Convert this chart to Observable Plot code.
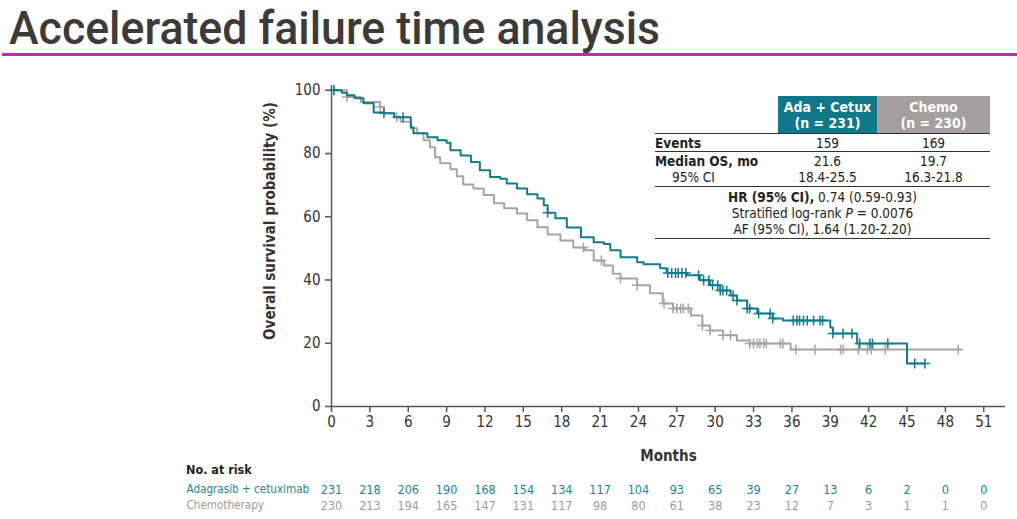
<!DOCTYPE html>
<html><head><meta charset="utf-8">
<script src="https://cdn.jsdelivr.net/npm/d3@7"></script>
<script src="https://cdn.jsdelivr.net/npm/@observablehq/plot@0.6"></script>
<style>
body{margin:0;background:#fff;width:1017px;height:519px;position:relative;overflow:hidden;font-family:"DejaVu Sans Condensed","DejaVu Sans",sans-serif;}
#title{position:absolute;left:9px;top:0px;font-family:Roboto,sans-serif;font-weight:500;font-size:47px;line-height:normal;color:#3d3a3a;transform-origin:left top;white-space:nowrap;}
#rule{position:absolute;left:2px;top:53px;width:1015px;height:3px;background:#b72eb4;}
#main{position:absolute;left:0;top:60px;}
#risk{position:absolute;left:0;top:478px;}
#norisk{position:absolute;left:186px;top:462px;font-weight:bold;font-size:12.5px;color:#222;}
#ylab{position:absolute;left:270px;top:221px;transform:translate(-50%,-50%) rotate(-90deg);white-space:nowrap;font-size:15px;font-weight:bold;color:#333;}
#tbl{position:absolute;left:655px;top:96px;border-collapse:collapse;font-size:13.5px;color:#222;line-height:16px;}
#tbl td{padding:0;text-align:center;}
#tbl td.c0{width:123px;text-align:left;}
#tbl td.c1{width:99px;}
#tbl td.c2{width:113px;}
#tbl tr.hd td.c1{background:#10788a;color:#fff;font-weight:bold;height:37px;font-size:14px;}
#tbl tr.hd td.c2{background:#a59f9f;color:#fff;font-weight:bold;height:37px;font-size:14px;}
#tbl tr.hd td{border-bottom:1.5px solid #333;}
#tbl tr.ev td{border-bottom:1.5px solid #333;height:17px;}
#tbl tr.md td{border-bottom:1.5px solid #333;height:34px;}
#tbl tr.hr td{border-bottom:1.5px solid #333;height:51px;}
</style></head>
<body>
<div id="title">Accelerated failure time analysis</div>
<div id="rule"></div>
<div id="main"></div>
<div id="ylab">Overall survival probability (%)</div>
<table id="tbl"></table>
<div id="norisk">No. at risk</div>
<div id="risk"></div>
<script>
// ---- data ----
const groups = ["Adagrasib + cetuximab", "Chemotherapy"];
const shortNames = ["Ada + Cetux", "Chemo"];
const nPatients = [231, 230];
const events = [159, 169];
const medianOS = ["21.6", "19.7"];
const medianCI = ["18.4-25.5", "16.3-21.8"];
const statLines = ["HR (95% CI),| 0.74 (0.59-0.93)", "Stratified log-rank |P| = 0.0076", "AF (95% CI), 1.64 (1.20-2.20)"];

const adaTime = [0,0.8,1.2,1.8,2.5,3.3,4.1,4.9,6.2,6.4,7.5,8.3,9.0,9.3,10.1,10.9,11.6,12.4,13.2,13.7,14.5,15.3,16.1,16.6,16.9,17.5,18.4,19.5,20.5,21.3,21.8,22.6,23.9,24.4,25.7,26.2,27.8,28.8,29.6,30.4,31.2,31.7,32.5,33.3,34.5,35.3,39.0,39.2,41.1,45.0,46.4];
const adaSurv = [100,99.2,98.4,97.5,95.9,93.0,92.7,91.5,88.3,86.4,85.1,84.2,83.4,81.0,79.4,77.3,74.7,72.6,72.0,70.5,68.9,67.1,65.8,63.6,61.3,59.5,56.6,53.5,51.9,51.4,49.4,47.2,45.6,45.0,43.7,42.2,41.5,39.9,38.3,36.7,35.1,33.5,31.0,29.4,27.8,27.2,25.0,23.1,19.9,13.6,13.6];
const chemoTime = [0,1.2,2.3,3.8,4.1,4.9,5.4,6.2,6.7,7.2,7.7,8.1,8.5,9.3,9.8,10.3,11.1,11.9,12.7,13.5,14.5,15.3,16.1,16.9,17.9,18.9,19.8,20.5,21.3,22.0,22.6,23.9,24.9,25.9,26.7,28.1,29.0,29.6,30.6,31.7,32.7,35.9,49.2];
const chemoSurv = [100,97.9,96.3,94.7,92.7,91.5,90.0,88.0,86.4,84.2,82.0,78.8,76.9,75.0,72.8,70.2,68.9,66.9,64.3,62.7,61.0,58.9,56.7,54.4,52.5,50.3,49.4,46.2,44.6,42.0,40.5,38.3,35.8,32.6,31.0,28.8,25.6,24.0,22.5,20.9,19.9,18.0,18.0];
const adaCensor = [0.2,4.1,5.6,16.9,26.3,26.6,26.9,27.1,27.4,27.7,28.7,29.1,29.5,29.8,30.2,30.4,30.6,30.9,31.4,31.7,32.5,32.7,33.4,34.3,34.5,36.1,36.4,36.6,36.9,37.2,37.7,38.2,38.4,39.2,40.0,40.7,41.3,42.1,42.3,43.5,45.6,46.4];
const chemoCensor = [0.2,1.2,3.8,5.1,19.7,21.1,22.6,23.9,26.0,26.7,27.0,27.3,27.5,27.9,29.0,29.6,30.6,31.2,32.7,33.0,33.3,33.5,33.8,34.0,35.1,35.3,36.3,37.8,39.8,40.0,41.2,41.9,42.2,43.3,49.0];

const xTicks = [0,3,6,9,12,15,18,21,24,27,30,33,36,39,42,45,48,51];
const yTicks = [0,20,40,60,80,100];
const riskAda = [231,218,206,190,168,154,134,117,104,93,65,39,27,13,6,2,0,0];
const riskChemo = [230,213,194,165,147,131,117,98,80,61,38,23,12,7,3,1,1,0];

const teal = "#127c8b", gray = "#a8a4a4";
const tealText = "#1a8696", grayText = "#a09c9c";

// ---- helpers ----
const rows = (T, S) => T.map((t, i) => ({t, s: S[i]}));
const survAt = (T, S, t) => { let v = S[0]; for (let i = 0; i < T.length; i++) if (T[i] <= t) v = S[i]; return v; };
const cens = (C, T, S) => C.map(t => ({t, s: survAt(T, S, t)}));
const plusSymbol = { draw(ctx, size) { const r = Math.sqrt(size / Math.PI); ctx.moveTo(-r, 0); ctx.lineTo(r, 0); ctx.moveTo(0, -r); ctx.lineTo(0, r); } };

// ---- title fit ----
const ttl = document.getElementById("title");
ttl.style.transform = `scaleX(${651 / ttl.getBoundingClientRect().width})`;

// ---- table ----
const tbl = document.getElementById("tbl");
const fmtStat = (s, i) => {
  const p = s.split("|");
  if (i === 0) return `<b>${p[0]}</b>${p[1]}`;
  if (i === 1) return `${p[0]}<i>${p[1]}</i>${p[2]}`;
  return s;
};
tbl.innerHTML =
  `<tr class="hd"><td class="c0"></td><td class="c1">${shortNames[0]}<br>(n = ${nPatients[0]})</td><td class="c2">${shortNames[1]}<br>(n = ${nPatients[1]})</td></tr>` +
  `<tr class="ev"><td class="c0"><b>Events</b></td><td class="c1">${events[0]}</td><td class="c2">${events[1]}</td></tr>` +
  `<tr class="md"><td class="c0"><b>Median OS, mo</b><br><span style="padding-left:17px">95% CI</span></td><td class="c1">${medianOS[0]}<br>${medianCI[0]}</td><td class="c2">${medianOS[1]}<br>${medianCI[1]}</td></tr>` +
  `<tr class="hr"><td colspan="3">${statLines.map(fmtStat).join("<br>")}</td></tr>`;

// ---- main chart ----
const xDomain = [0, 52.7];
const main = Plot.plot({
  width: 1017, height: 410,
  marginLeft: 331, marginRight: 12, marginTop: 25, marginBottom: 64,
  x: {domain: xDomain},
  y: {domain: [0, 101.5]},
  style: {fontFamily: '"DejaVu Sans Condensed","DejaVu Sans",sans-serif', fontSize: "15px", color: "#333", background: "transparent"},
  marks: [
    Plot.axisY({ticks: yTicks, tickSize: 6, tickPadding: 5, label: null, stroke: "#555", strokeWidth: 1.5}),
    Plot.axisX({ticks: xTicks, tickSize: 6, tickPadding: 4, label: "Months", labelAnchor: "center", labelArrow: "none", labelOffset: 54, stroke: "#555", strokeWidth: 1.5}),
    Plot.ruleX([0], {stroke: "#555", strokeWidth: 1.5}),
    Plot.ruleY([0], {stroke: "#555", strokeWidth: 1.5}),
    Plot.line(rows(chemoTime, chemoSurv), {x: "t", y: "s", curve: "step-after", stroke: gray, strokeWidth: 2}),
    Plot.dot(cens(chemoCensor, chemoTime, chemoSurv), {x: "t", y: "s", symbol: plusSymbol, r: 5, stroke: gray, strokeWidth: 1.5}),
    Plot.line(rows(adaTime, adaSurv), {x: "t", y: "s", curve: "step-after", stroke: teal, strokeWidth: 2}),
    Plot.dot(cens(adaCensor, adaTime, adaSurv), {x: "t", y: "s", symbol: plusSymbol, r: 5, stroke: teal, strokeWidth: 1.5})
  ]
});
document.getElementById("main").append(main);
main.querySelectorAll('[aria-label="x-axis label"] text').forEach(t => { t.style.fontWeight = "bold"; });

// ---- risk table ----
const riskRows = (vals, g) => xTicks.map((t, i) => ({t, g, n: vals[i]}));
const risk = Plot.plot({
  width: 1017, height: 36,
  marginLeft: 331, marginRight: 12, marginTop: 0, marginBottom: 0,
  x: {domain: xDomain, axis: null},
  y: {type: "point", domain: groups, range: [11, 27], padding: 0, axis: null},
  style: {fontFamily: '"DejaVu Sans Condensed","DejaVu Sans",sans-serif', fontSize: "12.5px", background: "transparent"},
  marks: [
    Plot.text(riskRows(riskAda, groups[0]), {x: "t", y: "g", text: "n", fill: tealText}),
    Plot.text(riskRows(riskChemo, groups[1]), {x: "t", y: "g", text: "n", fill: grayText}),
    Plot.text([groups[0]], {y: d => d, text: d => d, frameAnchor: "left", dx: -145, textAnchor: "start", fill: tealText, fontSize: 11.6}),
    Plot.text([groups[1]], {y: d => d, text: d => d, frameAnchor: "left", dx: -145, textAnchor: "start", fill: grayText, fontSize: 11.6})
  ]
});
document.getElementById("risk").append(risk);
</script>
</body></html>
